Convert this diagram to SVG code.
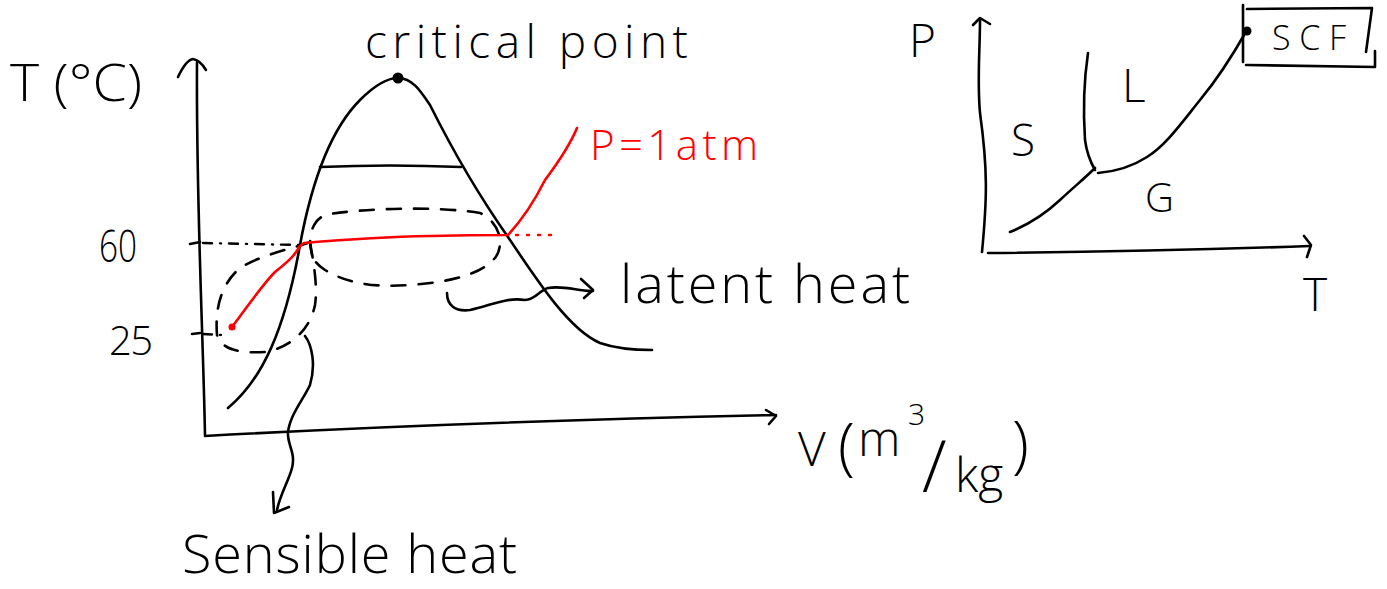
<svg xmlns="http://www.w3.org/2000/svg" width="1387" height="589" viewBox="0 0 1387 589">
<style>
.ink{fill:none;stroke:#000;stroke-width:2.6;stroke-linecap:round;stroke-linejoin:round}
.red{fill:none;stroke:#f00;stroke-width:2.6;stroke-linecap:round;stroke-linejoin:round}
.dash{fill:none;stroke:#000;stroke-width:2.6;stroke-linecap:round;stroke-dasharray:14 13}
.dashdot{fill:none;stroke:#000;stroke-width:2.4;stroke-linecap:round;stroke-dasharray:9 8 1 8}
.reddot{fill:none;stroke:#f00;stroke-width:2.4;stroke-linecap:round;stroke-dasharray:2 9}
text{font-family:"Open Sans","Liberation Sans",sans-serif;font-weight:300;fill:#000}
.rt{fill:#f00}
</style>
<rect width="1387" height="589" fill="#fff"/>

<g id="tv-diagram">
  <g id="axes-left">
    <path class="ink" d="M205,435 C203,330 196,200 197,62"/>
    <path class="ink" d="M178,77 Q186,60 193,59 Q200,60 206,70"/>
    <path class="ink" d="M205,436 C350,428 550,420 776,415"/>
    <path class="ink" d="M766,410 L776,416 L769,424"/>
    <path class="ink" d="M190,244 L200,242"/>
    <path class="ink" d="M192,334 L200,333"/>
  </g>
  <g id="dome">
    <path class="ink" d="M228,408 C262,380 285,330 300,245 C312,180 330,130 360,100 C375,85 388,78 398,78 C412,78 420,90 430,105 C450,145 475,190 508,237 C540,285 570,330 600,343 C620,350 640,350 652,350"/>
    <path class="ink" d="M320,167 Q390,164 461,167"/>
    <circle cx="398" cy="78" r="5.5" fill="#000"/>
  </g>
  <g id="guides">
    <path class="dashdot" d="M203,243 L300,245"/>
    <path class="dashdot" d="M203,334 L222,335"/>
    <path class="dash" d="M312,255 C308,240 310,222 325,215 C360,208 440,206 480,213 C500,222 505,245 495,258 C480,275 450,282 410,285 C370,288 345,282 325,270 C316,264 314,260 312,255 Z"/>
    <path class="dash" d="M310,242 C295,248 260,255 240,268 C220,285 215,310 217,335 C222,352 245,353 265,352 C290,348 310,330 315,305 C318,285 313,260 310,242 Z"/>
  </g>
  <g id="isobar">
    <path class="red" d="M232,327 C245,310 262,285 275,272 C290,260 295,255 300,246 L304,243 C340,240 380,237 430,236 C470,235 490,235 508,235 C520,222 535,200 545,180 C560,160 570,145 577,128"/>
    <circle cx="232" cy="327" r="3.5" fill="#f00"/>
    <path class="reddot" d="M516,235 L555,235"/>
  </g>
  <g id="connectors">
    <path class="ink" d="M305,336 C312,345 316,365 310,385 C303,400 290,415 288,432 C287,445 296,452 292,468 C289,480 280,495 277,510"/>
    <path class="ink" d="M273,492 L274,513 L289,507"/>
    <path class="ink" d="M447,293 C447,305 455,312 470,310 C490,306 505,297 525,300 C535,300 540,290 548,288 C565,285 580,292 593,291"/>
    <path class="ink" d="M581,279 L593,290 L584,298"/>
  </g>
  <g id="labels-left">
    <text x="10" y="101" font-size="52" textLength="132" lengthAdjust="spacingAndGlyphs">T (°C)</text>
    <text x="365" y="58" font-size="46" textLength="323" lengthAdjust="spacing">critical point</text>
    <text class="rt" x="590" y="160" font-size="42" textLength="168" lengthAdjust="spacing">P=1atm</text>
    <text x="99" y="262" font-size="44" textLength="38" lengthAdjust="spacingAndGlyphs">60</text>
    <text x="109" y="355" font-size="40" textLength="44" lengthAdjust="spacing">25</text>
    <text x="620" y="303" font-size="54" textLength="290" lengthAdjust="spacing">latent heat</text>
    <text x="182" y="573" font-size="54" textLength="335" lengthAdjust="spacing">Sensible heat</text>
    <text font-size="48"><tspan x="798" y="466">V</tspan><tspan x="838" y="468" font-size="62">(</tspan><tspan x="858" y="456">m</tspan><tspan x="908" y="425" font-size="30">3</tspan><tspan x="922" y="492" font-size="72">/</tspan><tspan x="955" y="492">kg</tspan><tspan x="1012" y="466" font-size="62">)</tspan></text>
  </g>
</g>

<g id="pt-diagram">
  <g id="axes-right">
    <path class="ink" d="M982,252 C987,200 988,170 980,113 C977,80 980,50 980,20"/>
    <path class="ink" d="M973,25 L980,18 L990,24"/>
    <path class="ink" d="M988,253 C1100,252 1200,250 1310,246"/>
    <path class="ink" d="M1304,236 L1311,245 L1307,257"/>
  </g>
  <g id="phase-lines">
    <path class="ink" d="M1010,232 C1030,224 1045,214 1060,200 C1075,186 1085,178 1095,168"/>
    <path class="ink" d="M1088,53 C1084,80 1083,110 1085,140 C1087,155 1091,163 1095,170"/>
    <path class="ink" d="M1098,173 C1110,172 1130,168 1147,157 C1165,146 1180,125 1200,100 C1215,82 1230,60 1247,30"/>
    <circle cx="1247" cy="31" r="4.5" fill="#000"/>
  </g>
  <g id="scf-box">
    <path class="ink" d="M1243,5 L1243,62"/>
    <path class="ink" d="M1247,9 L1372,8 L1366,52"/>
    <path class="ink" d="M1246,65 L1375,67 L1375,51"/>
  </g>
  <g id="labels-right">
    <text x="1272" y="50" font-size="34" textLength="74" lengthAdjust="spacing">SCF</text>
    <text x="909" y="57" font-size="46">P</text>
    <text x="1303" y="311" font-size="46">T</text>
    <text x="1011" y="156" font-size="44">S</text>
    <text x="1122" y="102" font-size="46">L</text>
    <text x="1145" y="212" font-size="40">G</text>
  </g>
</g>
</svg>
